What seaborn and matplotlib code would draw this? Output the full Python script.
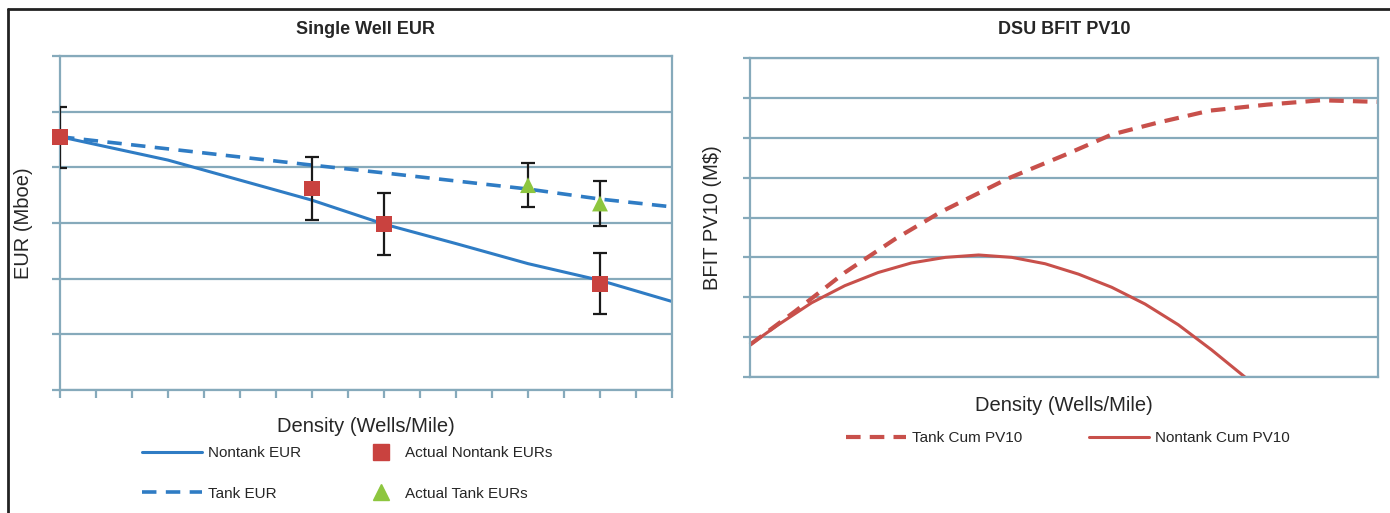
import numpy as np
import pandas as pd
import seaborn as sns
from matplotlib import pyplot as plt
from matplotlib.lines import Line2D

# ---- data (axis units: tick index / gridline index) ----
nontank_x = [0, 2, 3, 5, 7, 9, 11, 13, 15, 17]
nontank_eur = [4.55, 4.27, 4.13, 3.77, 3.41, 2.98, 2.63, 2.27, 1.97, 1.59]

tank_x = [0, 7, 9, 13, 15, 17]
tank_eur = [4.55, 4.04, 3.90, 3.61, 3.43, 3.29]

actual_nontank_x = [0, 7, 9, 15]
actual_nontank_eur = [4.54, 3.62, 2.98, 1.91]
actual_nontank_err = [0.55, 0.56, 0.55, 0.55]

actual_tank_x = [13, 15]
actual_tank_eur = [3.68, 3.35]
actual_tank_err = [0.40, 0.40]

# DSU chart: x in % of axis width
tank_pv_x = [0, 7.2, 15.1, 23.1, 30.4, 41.1, 50, 57.6, 64.7, 73.2, 82.3, 90.9, 100]
tank_pv = [0.81, 1.65, 2.62, 3.46, 4.14, 4.98, 5.56, 6.08, 6.37, 6.68, 6.83, 6.94, 6.90]

nontank_pv_x = [0, 4.5, 9.8, 15.1, 20.4, 25.7, 31.1, 36.4, 41.7, 47, 52.3, 57.6, 62.9, 68.2, 73.5, 78.8]
nontank_pv = [0.81, 1.31, 1.86, 2.29, 2.62, 2.86, 3.00, 3.06, 3.00, 2.84, 2.58, 2.25, 1.83, 1.31, 0.68, 0.0]

BLUE = '#2f7cc4'
RED_SQ = '#c9423f'
GREEN = '#8dc63f'
RED_LN = '#c8504b'
GRID = '#86aabb'

sns.set_theme(style='white')
plt.rcParams['font.family'] = ['Liberation Sans', 'DejaVu Sans']

fig = plt.figure(figsize=(13.9, 5.13), dpi=100)
ax1 = fig.add_axes([60/1390, 1-390/513, 612/1390, 334/513])
ax2 = fig.add_axes([750/1390, 1-377/513, 628/1390, 319/513])


def style_axis(ax, ymax, xticks):
	ax.set_ylim(0, ymax)
	ax.set_yticks(range(ymax + 1))
	ax.set_yticklabels([])
	ax.set_xticks(xticks)
	ax.set_xticklabels([])
	ax.grid(axis='y', color=GRID, lw=1.6)
	ax.grid(axis='x', visible=False)
	for s in ax.spines.values():
		s.set_color(GRID)
		s.set_linewidth(1.6)
	ax.tick_params(axis='both', direction='out', color=GRID, width=1.6,
				   length=6, left=True, bottom=True)


# ---- Single Well EUR ----
sns.lineplot(x=nontank_x, y=nontank_eur, color=BLUE, lw=2.2, ax=ax1)
sns.lineplot(x=tank_x, y=tank_eur, color=BLUE, lw=2.6, ax=ax1)
ax1.lines[-1].set_dashes([4, 2.6])
ax1.errorbar(actual_nontank_x, actual_nontank_eur, yerr=actual_nontank_err,
			 fmt='none', ecolor='#1a1a1a', elinewidth=1.6, capsize=5, capthick=1.6, zorder=4)
ax1.errorbar(actual_tank_x, actual_tank_eur, yerr=actual_tank_err,
			 fmt='none', ecolor='#1a1a1a', elinewidth=1.6, capsize=5, capthick=1.6, zorder=4)
sns.scatterplot(x=actual_nontank_x, y=actual_nontank_eur, marker='s', s=130,
				color=RED_SQ, edgecolor='none', ax=ax1, zorder=5, clip_on=False)
sns.scatterplot(x=actual_tank_x, y=actual_tank_eur, marker='^', s=130,
				color=GREEN, edgecolor='none', ax=ax1, zorder=5)
ax1.set_xlim(0, 17)
style_axis(ax1, 6, range(18))
ax1.set_title('Single Well EUR', fontsize=13, weight='bold', pad=16)
ax1.set_xlabel('Density (Wells/Mile)', fontsize=14.5, labelpad=10)
ax1.set_ylabel('EUR (Mboe)', fontsize=14.5, labelpad=10)

# ---- DSU BFIT PV10 ----
sns.lineplot(x=tank_pv_x, y=tank_pv, color=RED_LN, lw=3, ax=ax2)
ax2.lines[-1].set_dashes([3.5, 2.2])
ax2.lines[-1].set_clip_on(False)
sns.lineplot(x=nontank_pv_x, y=nontank_pv, color=RED_LN, lw=2.2, ax=ax2)
ax2.set_xlim(0, 100)
style_axis(ax2, 8, [])
ax2.tick_params(axis='y', length=5)
ax2.set_title('DSU BFIT PV10', fontsize=13, weight='bold', pad=17)
ax2.set_xlabel('Density (Wells/Mile)', fontsize=14.5, labelpad=14)
ax2.set_ylabel('BFIT PV10 (M$)', fontsize=14.5, labelpad=12)

# ---- legends ----
leg_kw = dict(frameon=False, fontsize=11, borderpad=0, borderaxespad=0,
			  labelspacing=1.75, loc='upper left')
h_lines = [Line2D([], [], color=BLUE, lw=2.2),
		   Line2D([], [], color=BLUE, lw=2.6, dashes=[4, 2.6])]
fig.legend(h_lines, ['Nontank EUR', 'Tank EUR'], handlelength=3.9,
		   handletextpad=0.4, bbox_to_anchor=(142/1390, 1-446/513), **leg_kw)
h_marks = [Line2D([], [], color=RED_SQ, marker='s', ls='none', ms=11),
		   Line2D([], [], color=GREEN, marker='^', ls='none', ms=11)]
fig.legend(h_marks, ['Actual Nontank EURs', 'Actual Tank EURs'], handlelength=1.0,
		   handletextpad=1.1, bbox_to_anchor=(373/1390, 1-446/513), **leg_kw)

h_pv = [Line2D([], [], color=RED_LN, lw=3, dashes=[3.5, 2.2]),
		Line2D([], [], color=RED_LN, lw=2.2)]
fig.legend(h_pv, ['Tank Cum PV10', 'Nontank Cum PV10'], ncol=2, handlelength=3.9,
		   handletextpad=0.4, columnspacing=4.4, bbox_to_anchor=(846/1390, 1-431/513),
		   **leg_kw)

# outer frame (top and left edges)
fig.add_artist(Line2D([8/1390, 8/1390], [0, 1-9/513], color='#222222', lw=2,
					  transform=fig.transFigure))
fig.add_artist(Line2D([8/1390, 1], [1-9/513, 1-9/513], color='#222222', lw=2,
					  transform=fig.transFigure))

fig.savefig('out.png', dpi=100, facecolor='white')
